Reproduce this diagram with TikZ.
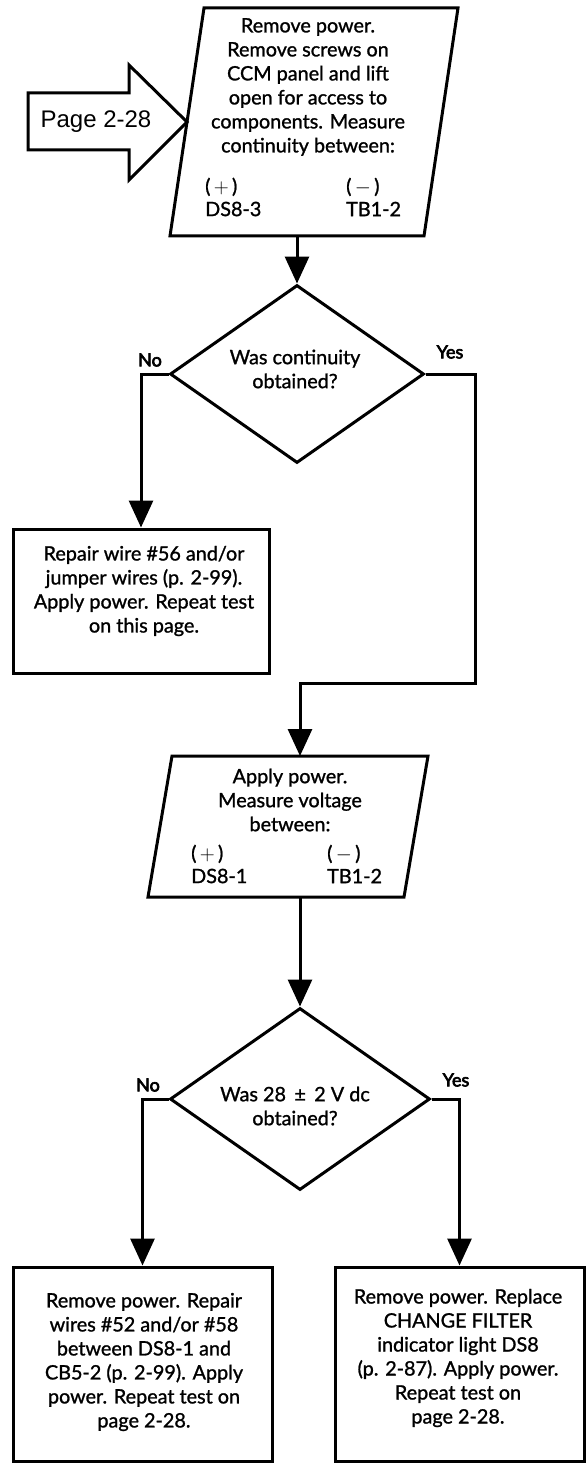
\documentclass[tikz,border=0pt]{standalone}
\usepackage{fontspec}
\setmainfont{Lato}[UprightFeatures={FakeBold=1.2}]
\newfontfamily\lblfont{Lato}[UprightFeatures={FakeBold=3.5}]
\newfontfamily\helv{Liberation Sans}
\usetikzlibrary{arrows.meta,shapes.geometric}
\begin{document}
\begin{tikzpicture}[x=1pt,y=-1pt,
  outline/.style={draw, line width=3pt, line join=miter},
  conn/.style={line width=3pt},
  arr/.style={conn, -{Triangle[length=27pt,width=24pt]}},
  txt/.style={font=\fontsize{19.8}{24}\selectfont, align=center, inner sep=0},
  sidetxt/.style={font=\fontsize{19.8}{23}\selectfont, align=left, inner sep=0, anchor=west},
  lbl/.style={font=\lblfont\fontsize{18}{20}\selectfont, inner sep=0},
  dia/.style={diamond, draw, line width=3pt, inner sep=0}]
\useasboundingbox (0,0) rectangle (586,1463);

% entry arrow
\draw[outline] (28,93) -- (129,93) -- (129,65) -- (187,122) -- (129,180) -- (129,150) -- (28,150) -- cycle;
\node[font=\helv\fontsize{24}{26}\selectfont, inner sep=0] (pg) at (96,122) {Page 2-28};

% parallelogram 1
\draw[outline] (204,8) -- (458,8) -- (424,236) -- (170,236) -- cycle;
\coordinate (p1s) at (297,236);
\node[txt] (t1) at (308,87) {Remove power.\\Remove screws on\\CCM panel and lift\\open for access to\\components. Measure\\continuity between:};
\node[sidetxt] (t1a) at (205,197) {(\,$+$\,)\\DS8-3};
\node[sidetxt] (t1b) at (346,197) {(\,$-$\,)\\TB1-2};

% decision 1
\node[dia, minimum width=254pt, minimum height=178pt] (d1) at (297,374) {};
\node[txt] (t2) at (295,369) {Was continuity\\obtained?};
\node[lbl] (no1) at (150,360) {No};
\node[lbl] (yes1) at (450,352) {Yes};

% box 1
\node[outline, minimum width=256pt, minimum height=144pt, inner sep=0] (b1) at (141,601) {};
\node[txt] (t3) at (144,591) {Repair wire \#56 and/or\\jumper wires (p. 2-99).\\Apply power. Repeat test\\on this page.};

% parallelogram 2
\draw[outline] (172,756) -- (428,756) -- (404,897) -- (148,897) -- cycle;
\coordinate (p2n) at (300,756);
\coordinate (p2s) at (300,897);
\node[txt] (t4) at (290,800) {Apply power.\\Measure voltage\\between:};
\node[sidetxt] (t4a) at (191,864) {(\,$+$\,)\\DS8-1};
\node[sidetxt] (t4b) at (327,864) {(\,$-$\,)\\TB1-2};

% decision 2
\node[dia, minimum width=260pt, minimum height=182pt] (d2) at (300,1099) {};
\node[txt] (t5) at (295,1106) {Was 28 \,±\, 2 V dc\\obtained?};
\node[lbl] (no2) at (148,1085) {No};
\node[lbl] (yes2) at (456,1080) {Yes};

% bottom boxes
\node[outline, minimum width=259pt, minimum height=194pt, inner sep=0] (b3) at (142.5,1364) {};
\node[txt] (t6) at (144,1362) {Remove power. Repair\\wires \#52 and/or \#58\\between DS8-1 and\\CB5-2 (p. 2-99). Apply\\power. Repeat test on\\page 2-28.};
\node[outline, minimum width=249pt, minimum height=194pt, inner sep=0] (b4) at (459.5,1364) {};
\node[txt] (t7) at (458,1358) {Remove power. Replace\\CHANGE FILTER\\indicator light DS8\\(p. 2-87). Apply power.\\Repeat test on\\page 2-28.};

% connectors
\coordinate (c1) at (475,683);
\draw[arr] (p1s) -- (d1.north);
\draw[arr] (d1.west) -| (b1.north);
\draw[arr] (d1.east) -| (c1) -| (p2n);
\draw[arr] (p2s) -- (d2.north);
\draw[arr] (d2.west) -| (b3.north);
\draw[arr] (d2.east) -| (b4.north);
\end{tikzpicture}
\end{document}
